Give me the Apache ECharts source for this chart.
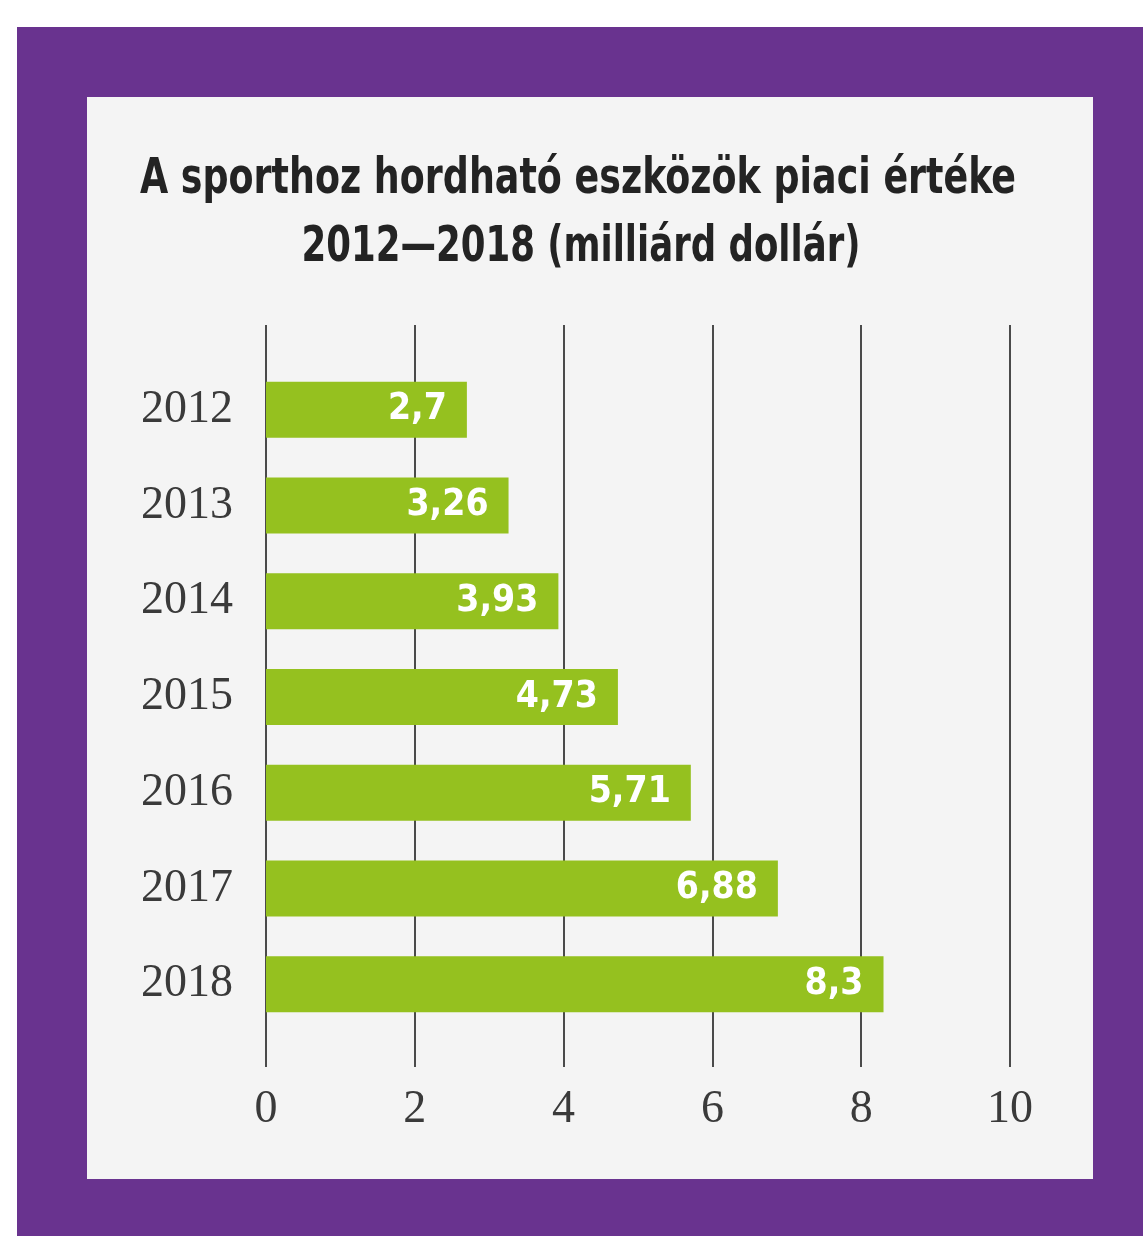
<!DOCTYPE html>
<html>
<head>
<meta charset="utf-8">
<script src="https://cdn.jsdelivr.net/npm/echarts@6/dist/echarts.min.js"></script>
<style>
html,body{margin:0;padding:0;background:#ffffff;}
#c{width:1143px;height:1236px;}
</style>
</head>
<body>
<div id="c"></div>
<script>
const titleLines = ['A sporthoz hordható eszközök piaci értéke', '2012—2018 (milliárd dollár)'];
const years = ['2012', '2013', '2014', '2015', '2016', '2017', '2018'];
const values = [2.7, 3.26, 3.93, 4.73, 5.71, 6.88, 8.3];
const xTicks = [0, 2, 4, 6, 8, 10];

const chart = echarts.init(document.getElementById('c'), null, {renderer: 'canvas'});
const titleFont = '"DejaVu Sans Condensed", "Open Sans", sans-serif';
const serifFont = '"Liberation Serif", "DejaVu Serif", serif';

chart.setOption({
  animation: false,
  backgroundColor: '#ffffff',
  graphic: [
    {type: 'rect', z: -10, shape: {x: 17, y: 27, width: 1126, height: 1209}, style: {fill: '#69338f'}},
    {type: 'rect', z: -9, shape: {x: 87, y: 97, width: 1006, height: 1082}, style: {fill: '#f4f4f4'}},
    {type: 'text', z: 5, x: 578, y: 180, scaleX: 0.81, style: {text: titleLines[0], fill: '#232323', font: 'bold 50px ' + titleFont, textAlign: 'center', textVerticalAlign: 'middle'}},
    {type: 'text', z: 5, x: 581, y: 248, scaleX: 0.79, style: {text: titleLines[1], fill: '#232323', font: 'bold 50px ' + titleFont, textAlign: 'center', textVerticalAlign: 'middle'}}
  ],
  grid: [
    {left: 266, right: 133, top: 362, bottom: 204},
    {left: 266, right: 133, top: 325, bottom: 169}
  ],
  xAxis: [
    {gridIndex: 0, type: 'value', min: 0, max: 10, interval: 2, show: false},
    {gridIndex: 1, type: 'value', min: 0, max: 10, interval: 2,
     axisLine: {show: false}, axisTick: {show: false},
     splitLine: {show: true, lineStyle: {color: '#4a4a4a', width: 2}},
     axisLabel: {margin: 20, color: '#3a3a3a', fontFamily: serifFont, fontSize: 46,
       formatter: v => xTicks.includes(v) ? String(v) : ''}}
  ],
  yAxis: [
    {gridIndex: 0, type: 'category', data: years, inverse: true,
     axisLine: {show: false}, axisTick: {show: false}, splitLine: {show: false},
     axisLabel: {margin: 33, color: '#3a3a3a', fontFamily: serifFont, fontSize: 46}},
    {gridIndex: 1, type: 'value', show: false}
  ],
  series: [{
    type: 'bar', xAxisIndex: 0, yAxisIndex: 0,
    data: values, barWidth: 56,
    itemStyle: {color: '#95c11f'},
    label: {show: true, position: 'insideRight', distance: 20, color: '#ffffff',
      fontFamily: titleFont, fontWeight: 'bold', fontSize: 37,
      formatter: p => String(p.value).replace('.', ',')}
  }]
});
</script>
</body>
</html>
